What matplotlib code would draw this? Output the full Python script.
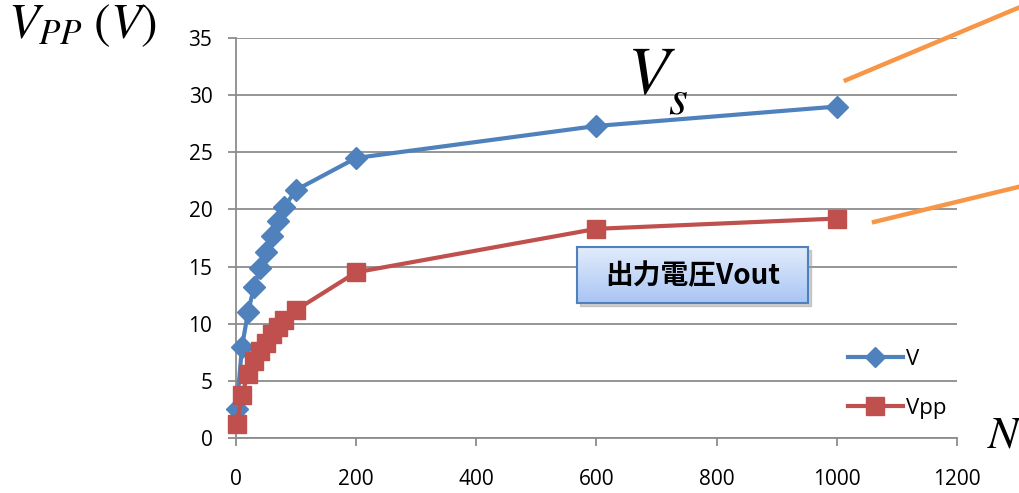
import matplotlib
matplotlib.use("Agg")
import matplotlib.pyplot as plt
import numpy as np
from matplotlib.patches import Rectangle

plt.rcParams['font.family'] = ['Open Sans', 'Noto Sans CJK JP', 'DejaVu Sans']
plt.rcParams['mathtext.fontset'] = 'stix'

# turns N and measured voltages
n = [1, 10, 20, 30, 40, 50, 60, 70, 80, 100, 200, 600, 1000]
v = [2.5, 8.0, 11.0, 13.2, 14.9, 16.3, 17.7, 19.0, 20.2, 21.7, 24.5, 27.3, 29.0]
vpp = [1.2, 3.8, 5.6, 6.7, 7.6, 8.3, 9.1, 9.7, 10.3, 11.2, 14.5, 18.3, 19.2]
series_names = ['V', 'Vpp']
yticks = [0, 5, 10, 15, 20, 25, 30, 35]
xticks = [0, 200, 400, 600, 800, 1000, 1200]

# callout strokes pointing off the right edge (data coords)
call1_x, call1_y = [1015, 1305], [31.3, 37.7]
call2_x, call2_y = [1062, 1305], [18.9, 22.0]

blue = '#4F81BD'
red = '#C0504D'
orange = '#F79646'
grid = '#8C8C8C'

fig = plt.figure(figsize=(10.19, 4.93), dpi=100)
ax = fig.add_axes([0.2316, 0.1116, 0.7075, 0.8114])
ax.set_facecolor('none')

ax.plot(n, v, color=blue, lw=3.0, marker='D', ms=11, mec=blue, mfc=blue,
        clip_on=False, zorder=3, label=series_names[0])
ax.plot(n, vpp, color=red, lw=3.0, marker='s', ms=13, mec=red, mfc=red,
        clip_on=False, zorder=3, label=series_names[1])

ax.set_xlim(0, 1200)
ax.set_ylim(0, 35)
ax.set_xticks(xticks)
ax.set_yticks(yticks)
ax.yaxis.grid(True, color=grid, lw=1.3)
ax.set_axisbelow(True)
for s in ['top', 'right']:
    ax.spines[s].set_visible(False)
for s in ['left', 'bottom']:
    ax.spines[s].set_color(grid)
    ax.spines[s].set_linewidth(1.3)
ax.tick_params(axis='both', colors=grid, labelcolor='black', labelsize=15,
               length=6, width=1.3)
ax.tick_params(axis='y', pad=11)
ax.tick_params(axis='x', pad=16)

for cx, cy in [(call1_x, call1_y), (call2_x, call2_y)]:
    ax.plot(cx, cy, color=orange, lw=3.2, clip_on=False, zorder=4)

leg = ax.legend(loc='upper left', bbox_to_anchor=(0.836, 0.245), frameon=False,
                fontsize=16, handlelength=2.5, labelspacing=1.25,
                handletextpad=0.15, borderaxespad=0, markerscale=0.95)

# axis titles
fig.text(8 / 1019, 1 - 38 / 493, r'$V_{PP}\;(V)$', fontsize=36,
         ha='left', va='baseline')
fig.text(628 / 1019, 1 - 92 / 493, 'V', family='STIXGeneral', style='italic',
         fontsize=49, ha='left', va='baseline')
fig.text(668 / 1019, 1 - 114 / 493, 's', family='STIXGeneral', style='italic',
         fontsize=35, ha='left', va='baseline')
fig.text(988 / 1019, 1 - 448 / 493, 'N', family='STIXGeneral', style='italic',
         fontsize=33, ha='left', va='baseline')

# label box with gradient fill and drop shadow
bx, by, bw, bh = 577 / 1019, 1 - 303 / 493, 231 / 1019, 56 / 493
fig.patches.append(Rectangle((bx + 3 / 1019, by - 3 / 493), bw, bh,
                             transform=fig.transFigure, color='#A0A0A0',
                             alpha=0.5, zorder=0.5))
bax = fig.add_axes([bx, by, bw, bh], zorder=1)
top_c = np.array([0xE2, 0xEC, 0xFC]) / 255
bot_c = np.array([0xA9, 0xC5, 0xF4]) / 255
t = np.linspace(0, 1, 64)[:, None]
grad = (top_c[None, :] * (1 - t) + bot_c[None, :] * t)[:, None, :]
bax.imshow(grad, aspect='auto', extent=[0, 1, 0, 1])
bax.set_xticks([])
bax.set_yticks([])
for s in bax.spines.values():
    s.set_color(blue)
    s.set_linewidth(1.5)
bax.text(0.5, 0.48, '出力電圧Vout', family=['Noto Sans CJK JP', 'DejaVu Sans'],
         fontweight='bold', fontsize=20, ha='center', va='center')

fig.savefig('out.png', dpi=100)
